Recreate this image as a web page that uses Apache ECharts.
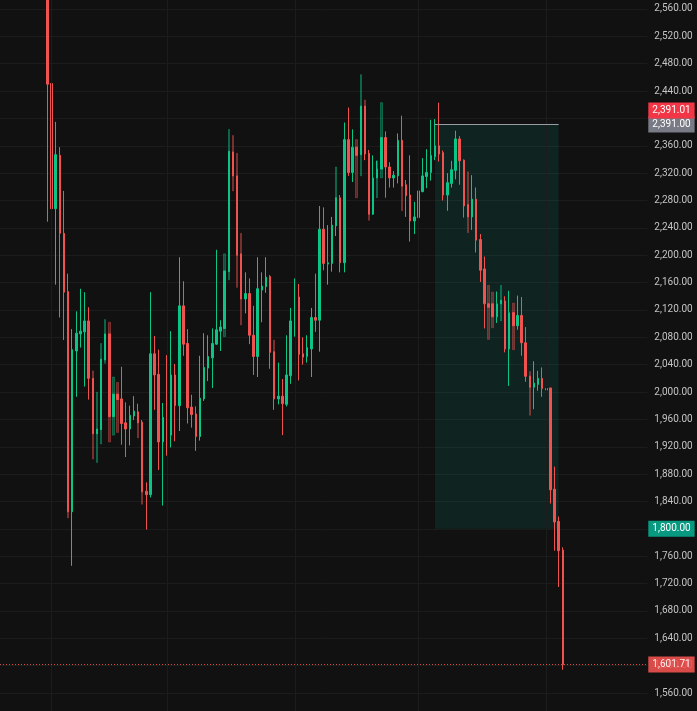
<!DOCTYPE html>
<html>
<head>
<meta charset="UTF-8">
<title>candles</title>
<script src="https://cdn.jsdelivr.net/npm/echarts@6/dist/echarts.min.js"></script>
<style>
    body { margin: 0; padding: 0; background: #111111; }
    #app { width: 697px; height: 711px; }
</style>
</head>
<body>
<div id="app"></div>
<script>
    // daily candles
    var opens = [2620,2451,2268,2346,2232,2147,1825,2060,2085,2088,
        2104,2020,1939,1945,2047,2085,1964,1997,1990,1955,
        1946,1965,1971,1956,1855,1850,2056,2026,1927,1963,
        1937,2025,1980,2126,2071,1978,1968,1935,1990,2035,
        2050,2070,2089,2093,2176,2351,2316,2202,2136,2144,
        2083,2052,2149,2154,2169,2059,1990,1994,1982,2024,
        2103,2139,2056,2052,2063,2109,2105,2238,2187,2188,
        2243,2284,2189,2369,2321,2358,2347,2418,2349,2260,
        2313,2326,2372,2329,2313,2316,2368,2303,2288,2250,
        2255,2293,2315,2321,2344,2360,2350,2288,2305,2324,
        2370,2339,2274,2256,2282,2223,2180,2129,2129,2110,
        2129,2133,2063,2116,2097,2112,2072,2023,2007,2011,
        2020,2005,2006,1858,1811,1769];
    var closes = [2450,2268,2347,2232,2146,1825,2062,2086,2089,2104,
        2020,1939,1946,2048,2085,1964,1997,1989,1954,1946,
        1966,1972,1955,1854,1850,2056,2025,1927,1963,1937,
        2025,1980,2126,2070,1977,1967,1935,1991,2036,2052,
        2071,2091,2095,2177,2352,2316,2200,2136,2144,2083,
        2052,2151,2155,2168,2058,1990,1994,1983,2025,2104,
        2139,2055,2051,2065,2109,2105,2238,2188,2189,2244,
        2284,2189,2369,2321,2358,2346,2418,2348,2260,2313,
        2326,2372,2329,2313,2317,2368,2301,2287,2250,2256,
        2294,2316,2321,2346,2360,2348,2288,2306,2325,2370,
        2338,2272,2256,2282,2222,2178,2129,2124,2110,2129,
        2134,2063,2116,2097,2112,2072,2023,2007,2013,2020,
        2005,2003,1857,1810,1768,1601.71];
    var lows = [2249,2221,2157,2109,2076,1825,1746,1993,2065,2008,
        1989,1939,1939,1945,2047,1964,1964,1989,1923,1905,
        1922,1959,1955,1854,1799,1846,1974,1886,1834,1907,
        1919,1928,1943,2053,1954,1948,1914,1929,1987,2016,
        2006,2069,2060,2093,2176,2316,2200,2136,2115,2070,
        2025,2022,2102,2145,2034,1974,1982,1937,1979,2012,
        2081,2017,2040,2043,2022,2088,2059,2178,2157,2176,
        2228,2175,2175,2316,2307,2346,2347,2339,2260,2259,
        2313,2326,2284,2299,2299,2305,2301,2256,2220,2231,
        2254,2292,2298,2309,2339,2337,2280,2265,2299,2311,
        2303,2255,2256,2237,2204,2161,2093,2124,2110,2101,
        2129,2058,2009,2097,2091,2053,2015,2007,1975,2002,
        1993,1955,1837,1768,1715,1594];
    var highs = [2650,2475,2395,2358,2294,2173,2092,2118,2151,2146,
        2124,2020,1946,2048,2085,2085,1997,1997,2037,1985,
        1980,1994,1983,1959,1868,2146,2082,2062,1984,2054,
        2089,2041,2197,2162,2092,1996,1979,2053,2086,2083,
        2093,2208,2105,2177,2352,2351,2316,2202,2175,2166,
        2126,2197,2175,2197,2171,2059,2043,2019,2083,2123,
        2166,2158,2080,2083,2123,2173,2272,2270,2244,2256,
        2284,2288,2394,2416,2384,2358,2418,2418,2354,2346,
        2338,2372,2381,2336,2323,2378,2404,2310,2346,2278,
        2324,2342,2355,2398,2399,2423,2353,2320,2338,2382,
        2374,2340,2274,2317,2299,2231,2198,2129,2129,2147,
        2134,2140,2148,2116,2141,2139,2095,2023,2045,2031,
        2036,2020,2006,1891,1818,1773];

    // faint overlay bars behind some candles
    var ghostDays = [5,11,12,13,14,15,16,17,22,23,
        43,44,45,46,47,55,70,75,76,77,
        78,80,81,86,102,107,108,110,113,117];
    var ghostOpens = [1825,2031,1897,1924,2042,2102,1937,2014,1971,1956,
        2081,2164,2375,2349,2232,2076,2243,2369,2316,2427,
        2349,2284,2313,2368,2322,2156,2146,2104,2130,2030];
    var ghostCloses = [1816,1902,2000,2071,2106,1927,2022,1941,1933,1836,
        2202,2384,2294,2153,2098,1990,2329,2284,2464,2348,
        2251,2338,2423,2265,2233,2077,2094,2156,2062,1966];

    var leadSlots = 11;      // empty days before the first candle
    var totalSlots = 157;    // days across the plot width
    var monthStarts = [12, 40, 71, 101, 132];
    var boxFrom = 105, boxTo = 135;
    var boxTop = 2391.00, boxBottom = 1800.00;
    var entryPrice = 2391.01;
    var lastPrice = 1601.71;

    var upColor = '#0bc586';
    var downColor = '#f0524f';

    var yMin = 1520, yMax = 2600, gridTop = -18.4, gridBottom = -9.4;
    var pxPerUnit = (711 - gridTop - gridBottom) / (yMax - yMin);

    function fmt(v) {
        return v.toLocaleString('en-US', {minimumFractionDigits: 2, maximumFractionDigits: 2});
    }

    var cats = [];
    for (let i = 0; i < totalSlots; i++) cats.push(String(i));
    var candles = opens.map(function (o, k) {
        return [k + leadSlots, o, closes[k], lows[k], highs[k]];
    });
    var ghosts = ghostDays.map(function (d, k) {
        var o = ghostOpens[k], c = ghostCloses[k];
        return [d + leadSlots, o, c, Math.min(o, c), Math.max(o, c)];
    });

    function tag(value, text, bg) {
        return {
            yAxis: value,
            lineStyle: {color: 'rgba(0,0,0,0)'},
            label: {
                show: true, position: 'end', distance: 1,
                formatter: text, backgroundColor: bg, color: '#ffffff',
                fontFamily: 'Roboto', fontSize: 10, padding: [3, 4, 3, 4]
            }
        };
    }

    var chart = echarts.init(document.getElementById('app'), null, {renderer: 'canvas'});
    chart.setOption({
        backgroundColor: '#111111',
        animation: false,
        grid: {left: 0, right: 49.7, top: gridTop, bottom: gridBottom, outerBoundsMode: 'none', containLabel: false},
        xAxis: {
            type: 'category', data: cats, boundaryGap: true,
            axisLine: {show: false}, axisTick: {show: false}, axisLabel: {show: false},
            splitLine: {show: false}
        },
        yAxis: {
            type: 'value', position: 'right', min: yMin, max: yMax, interval: 40,
            axisLine: {show: false}, axisTick: {show: false},
            axisLabel: {
                color: '#c4c4c4', fontFamily: 'Roboto', fontSize: 10, margin: 7,
                formatter: fmt
            },
            splitLine: {lineStyle: {color: '#1c1c1c', width: 1}}
        },
        series: [
            {
                type: 'line', data: [], z: 1, silent: true,
                markLine: {
                    silent: true, symbol: 'none', animation: false,
                    label: {show: false},
                    lineStyle: {color: '#1c1c1c', width: 1, type: 'solid'},
                    data: monthStarts.map(function (i) { return {xAxis: i}; })
                },
                markArea: {
                    silent: true,
                    itemStyle: {color: 'rgba(8,153,129,0.14)'},
                    data: [[{xAxis: boxFrom, yAxis: boxTop}, {xAxis: boxTo, yAxis: boxBottom}]]
                }
            },
            {
                type: 'candlestick', z: 2, silent: true,
                data: ghosts,
                encode: {x: 0, y: [1, 2, 3, 4]},
                barWidth: 2,
                itemStyle: {
                    color: upColor, color0: downColor,
                    borderColor: upColor, borderColor0: downColor,
                    borderWidth: 1, opacity: 0.35
                }
            },
            {
                type: 'candlestick', z: 3,
                data: candles,
                encode: {x: 0, y: [1, 2, 3, 4]},
                barWidth: 2,
                itemStyle: {
                    color: upColor, color0: downColor,
                    borderColor: upColor, borderColor0: downColor,
                    borderWidth: 1
                }
            },
            {
                type: 'line', data: [], z: 5, silent: true,
                markLine: {
                    silent: true, symbol: 'none', animation: false,
                    data: [
                        [{xAxis: boxFrom, yAxis: boxTop}, {xAxis: boxTo, yAxis: boxTop,
                            lineStyle: {color: '#9a9ca4', width: 1, type: 'solid'}, label: {show: false}}],
                        {
                            yAxis: lastPrice,
                            lineStyle: {color: '#f0524f', width: 1, type: [1, 2], opacity: 0.9},
                            label: {
                                show: true, position: 'end', distance: 1,
                                formatter: fmt(lastPrice), backgroundColor: '#f0524f', color: '#ffffff',
                                fontFamily: 'Roboto', fontSize: 10, padding: [3, 4, 3, 4]
                            }
                        },
                        tag(boxBottom, fmt(boxBottom), '#089981'),
                        tag(boxTop, fmt(boxTop), '#787b86'),
                        tag(entryPrice + 14 / pxPerUnit, fmt(entryPrice), '#f23645')
                    ]
                }
            }
        ]
    });
</script>
</body>
</html>
